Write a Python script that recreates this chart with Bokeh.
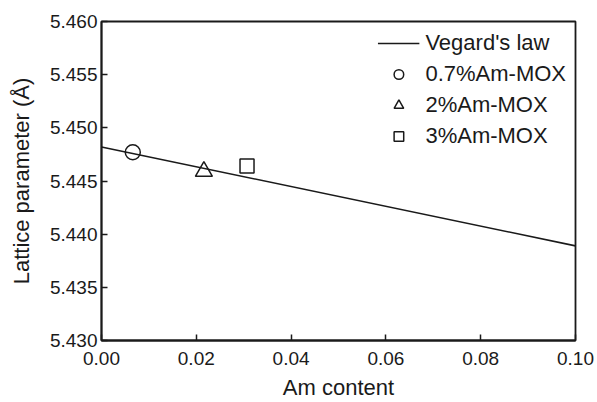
from bokeh.plotting import figure
from bokeh.models import Range1d, Legend, LegendItem, FixedTicker, NumeralTickFormatter
from bokeh.embed import file_html
from bokeh.resources import INLINE

# Data
vegard_x = [0.0, 0.1]
vegard_y = [5.4482, 5.4389]
am07_x = [0.0066]
am07_y = [5.4477]
am2_x = [0.0216]
am2_y = [5.4459]
am3_x = [0.0307]
am3_y = [5.4464]
x_ticks = [0.0, 0.02, 0.04, 0.06, 0.08, 0.10]
y_ticks = [5.430, 5.435, 5.440, 5.445, 5.450, 5.455, 5.460]

FONT = "Liberation Sans"
C = "#1a1a1a"

p = figure(width=597, height=402, output_backend="svg", toolbar_location=None,
           x_range=Range1d(0, 0.1), y_range=Range1d(5.430, 5.460),
           min_border_left=101, min_border_right=22, min_border_top=21, min_border_bottom=62)
p.grid.visible = False
p.outline_line_color = C
p.outline_line_width = 1.8
p.background_fill_color = "white"
p.border_fill_color = "white"

r_line = p.line(vegard_x, vegard_y, line_color=C, line_width=1.6)
r_c = p.scatter(am07_x, am07_y, marker="circle", size=15, fill_color=None, line_color=C, line_width=1.5)
r_t = p.scatter(am2_x, am2_y, marker="triangle", size=17, fill_color=None, line_color=C, line_width=1.5)
r_s = p.scatter(am3_x, am3_y, marker="square", size=14, fill_color=None, line_color=C, line_width=1.5)

for ax in (p.xaxis[0], p.yaxis[0]):
    ax.axis_line_color = C
    ax.axis_line_width = 1.8
    ax.major_tick_in = 6
    ax.major_tick_out = 0
    ax.major_tick_line_color = C
    ax.major_tick_line_width = 1.5
    ax.minor_tick_line_color = None
    ax.major_label_text_font = FONT
    ax.major_label_text_font_size = "19px"
    ax.major_label_text_color = C
    ax.axis_label_text_font = FONT
    ax.axis_label_text_font_size = "22px"
    ax.axis_label_text_font_style = "normal"
    ax.axis_label_text_color = C

p.xaxis.ticker = FixedTicker(ticks=x_ticks)
p.xaxis.formatter = NumeralTickFormatter(format="0.00")
p.yaxis.ticker = FixedTicker(ticks=y_ticks)
p.yaxis.formatter = NumeralTickFormatter(format="0.000")
p.xaxis.axis_label = "Am content"
p.yaxis.axis_label = "Lattice parameter (Å)"
p.xaxis.major_label_standoff = 11
p.xaxis.axis_label_standoff = 7
p.yaxis.major_label_standoff = 4
p.yaxis.axis_label_standoff = 13

legend = Legend(items=[
    LegendItem(label="Vegard's law", renderers=[r_line]),
    LegendItem(label="0.7%Am-MOX", renderers=[r_c]),
    LegendItem(label="2%Am-MOX", renderers=[r_t]),
    LegendItem(label="3%Am-MOX", renderers=[r_s]),
], location="top_right")
legend.border_line_color = None
legend.background_fill_alpha = 0
legend.label_text_font = FONT
legend.label_text_font_size = "22px"
legend.label_text_color = C
legend.glyph_width = 42
legend.glyph_height = 24
legend.label_height = 24
legend.spacing = 5
legend.padding = 0
legend.margin = 9
legend.label_standoff = 6
p.add_layout(legend)

open("out.html", "w").write(file_html(p, INLINE))
